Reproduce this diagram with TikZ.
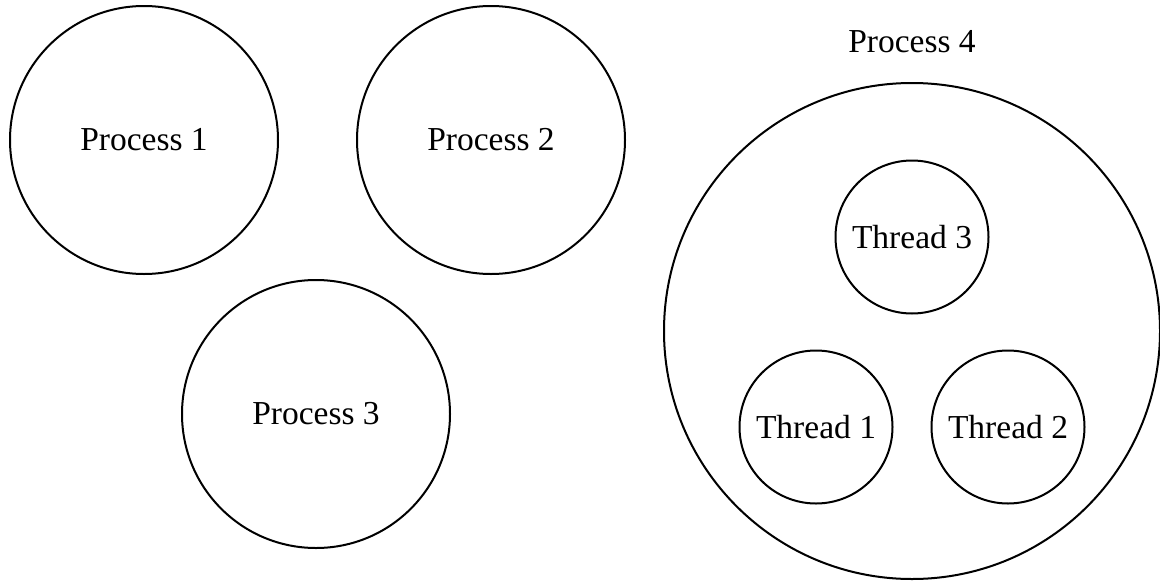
\documentclass[tikz,border=0pt]{standalone}
\usepackage{fontspec}
\setmainfont{Liberation Serif}
\begin{document}
\begin{tikzpicture}[x=1pt,y=-1pt,
  every node/.style={font=\fontsize{33.5}{40}\selectfont},
  ring/.style={draw=black,line width=2pt,circle,inner sep=0pt,outer sep=0pt},
  proc/.style={ring,minimum size=268pt},
  thr/.style={ring,minimum size=153pt}]
\useasboundingbox (0,0) rectangle (1160,584);
% separate processes
\node[proc] (p1) at (144,140) {Process 1};
\node[proc] (p2) at (491,140) {Process 2};
\node[proc] (p3) at (316,414) {Process 3};
% process with threads
\node[ring,minimum size=496pt] (p4) at (912,331) {};
\node (p4label) at (912,42) {Process 4};
\node[thr] (t3) at (912,237) {Thread 3};
\node[thr] (t1) at (816,427) {Thread 1};
\node[thr] (t2) at (1008,427) {Thread 2};
\end{tikzpicture}
\end{document}
